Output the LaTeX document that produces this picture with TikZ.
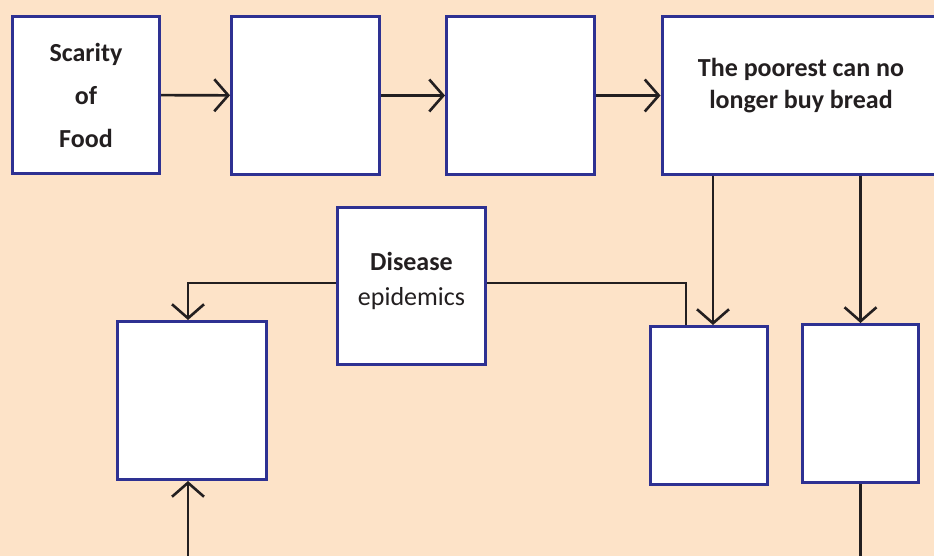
\documentclass[tikz,border=0pt]{standalone}
\usepackage{fontspec}
\setmainfont{Carlito}
\usetikzlibrary{arrows.meta}
\definecolor{peach}{HTML}{FDE3C8}
\definecolor{boxblue}{HTML}{2E3192}
\definecolor{ink}{HTML}{231F20}
\begin{document}
\begin{tikzpicture}[x=1pt,y=-1pt,
    box/.style={draw=boxblue,line width=3pt,fill=white,inner sep=0pt,
        align=center,text=ink,font=\fontsize{26}{32}\selectfont},
    arr/.style={draw=ink,line width=2.6pt,-{Straight Barb[length=14pt,width=32pt]}},
    link/.style={draw=ink,line width=2.6pt}]
    \fill[peach] (0,0) rectangle (934,556);
    \useasboundingbox (0,0) rectangle (934,556);
    \clip (0,0) rectangle (934,556);

    \node[box,minimum width=147pt,minimum height=157pt] (scarity) at (86,95)
        {\textbf{Scarity}\\[11pt]\textbf{of}\\[11pt]\textbf{Food}};
    \node[box,minimum width=148pt,minimum height=158pt] (step2) at (305.5,95.5) {};
    \node[box,minimum width=148pt,minimum height=158pt] (step3) at (520.5,95.5) {};
    \node[box,minimum width=278pt,minimum height=158pt] (poorest) at (801,95.5)
        {\begin{tabular}{@{}c@{}}\textbf{The poorest can no}\\\textbf{longer buy bread}\end{tabular}\rule[-45pt]{0pt}{0pt}};
    \node[box,minimum width=148pt,minimum height=157pt] (disease) at (411.5,286)
        {\begin{tabular}{@{}c@{}}\textbf{Disease}\\[3pt]epidemics\end{tabular}\rule[-36pt]{0pt}{0pt}};
    \node[box,minimum width=149pt,minimum height=158pt] (left) at (192,400.5) {};
    \node[box,minimum width=117pt,minimum height=158pt] (midr) at (709,405.5) {};
    \node[box,minimum width=116pt,minimum height=158pt] (farr) at (860.5,403.5) {};

    \coordinate (inlet) at (188,556);
    \coordinate (outlet) at (861,556);

    \draw[arr] (scarity) -- (step2);
    \draw[arr] (step2) -- (step3);
    \draw[arr] (step3) -- (poorest);
    \draw[arr] ([xshift=4pt]midr.north |- poorest.south) -- ([xshift=4pt]midr.north);
    \draw[arr] (farr.north |- poorest.south) -- (farr.north);
    \draw[arr] ([yshift=3pt]disease.west) -| ([xshift=-4pt]left.north);
    \draw[link] ([yshift=3pt]disease.east) -| ([xshift=-23pt]midr.north);
    \draw[arr] (inlet) -- ([xshift=-4pt]left.south);
    \draw[link] (farr.south) -- (farr.south |- outlet);
\end{tikzpicture}
\end{document}
